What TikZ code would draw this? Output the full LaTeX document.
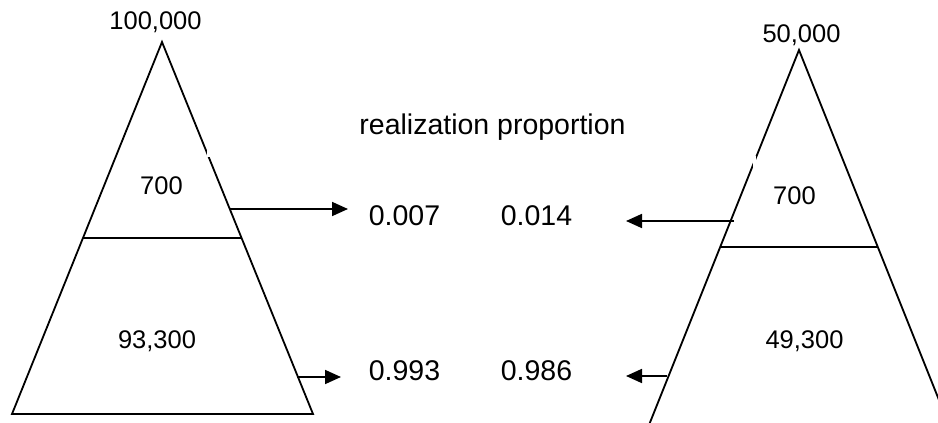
\documentclass[tikz,border=0pt]{standalone}
\usepackage{fontspec}
\setmainfont{Liberation Sans}
\usetikzlibrary{arrows.meta}
\begin{document}
\begin{tikzpicture}[x=1pt,y=-1pt,
  edge/.style={line width=1.8pt, line join=miter},
  conn/.style={line width=1.8pt, -{Triangle[length=16pt,width=14pt]}},
  big/.style={inner sep=0pt, anchor=base, font=\fontsize{28.5}{34}\selectfont},
  small/.style={inner sep=0pt, anchor=base, font=\fontsize{25.5}{30}\selectfont},
  gap/.style={white, line width=3pt}]
\useasboundingbox (0,0) rectangle (938,423);
\clip (0,0) rectangle (938,423);
% left triangle
\coordinate (LA) at (162,42);
\coordinate (LB) at (12,414);
\coordinate (LC) at (313,414);
\draw[edge] (LA) -- (LB) -- (LC) -- cycle;
\draw[edge] (83,238) -- (241.5,238);
\draw[gap] (208.5,149) -- (208.5,157);
% right triangle
\coordinate (RA) at (799,50);
\coordinate (RB) at (647,430);
\coordinate (RC) at (951,430);
\draw[edge] (RB) -- (RA) -- (RC);
\draw[edge] (720,247) -- (878,247);
\draw[gap] (754.5,156) -- (754.5,171);
% labels
\node[small] (l100) at (155.5,30) {100,000};
\node[small] (r50) at (801.5,42) {50,000};
\node[small] (l700) at (161.5,194) {700};
\node[small] (l933) at (157,348) {93,300};
\node[small] (r700) at (794.5,204) {700};
\node[small] (r493) at (804.5,348) {49,300};
\node[big] (title) at (492.5,134) {realization proportion};
\node[big] (p007) at (404.5,225) {0.007};
\node[big] (p014) at (536.5,225) {0.014};
\node[big] (p993) at (404.5,380) {0.993};
\node[big] (p986) at (536.5,380) {0.986};
% connectors
\coordinate (a1s) at (230,209);
\coordinate (a1e) at (348,209);
\coordinate (a2s) at (297,377);
\coordinate (a2e) at (341,377);
\coordinate (a3s) at (734,221);
\coordinate (a3e) at (626,221);
\coordinate (a4s) at (667,376);
\coordinate (a4e) at (626,376);
\draw[conn] (a1s) -- (a1e);
\draw[conn] (a2s) -- (a2e);
\draw[conn] (a3s) -- (a3e);
\draw[conn] (a4s) -- (a4e);
\end{tikzpicture}
\end{document}
